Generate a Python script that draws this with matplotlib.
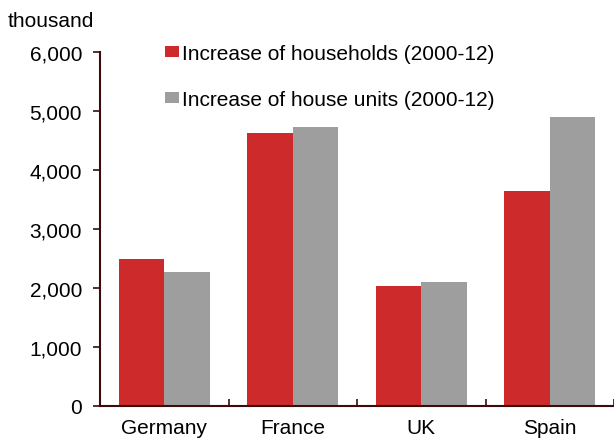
import matplotlib
matplotlib.use('Agg')
import matplotlib.pyplot as plt
import numpy as np
from matplotlib.ticker import FuncFormatter

plt.rcParams['font.family'] = ['Liberation Sans', 'DejaVu Sans']

countries = ['Germany', 'France', 'UK', 'Spain']
households = [2490, 4625, 2020, 3645]
house_units = [2260, 4730, 2090, 4895]
y_ticks = [0, 1000, 2000, 3000, 4000, 5000, 6000]

red = '#cc2a2b'
grey = '#9e9e9e'
spine_col = '#3c0b0b'

fig = plt.figure(figsize=(6.14, 4.39), dpi=100)
ax = fig.add_axes([0.163, 0.074, 0.837, 0.806])

x = np.arange(len(countries))
width = 0.355
ax.bar(x - width / 2, households, width, color=red, label='Increase of households (2000-12)')
ax.bar(x + width / 2, house_units, width, color=grey, label='Increase of house units (2000-12)')

ax.set_xlim(-0.5, len(countries) - 0.5)
ax.set_ylim(0, 6000)
ax.set_yticks(y_ticks)
ax.yaxis.set_major_formatter(FuncFormatter(lambda v, p: f'{int(v):,}'))
ax.set_xticks(x)
ax.set_xticklabels(countries)
# category boundary ticks on x axis
ax.set_xticks(np.arange(len(countries) + 1) - 0.5, minor=True)
ax.tick_params(axis='x', which='major', length=0, labelsize=15, pad=9)
ax.tick_params(axis='x', which='minor', direction='in', length=5, color=spine_col, width=1.2)
ax.tick_params(axis='y', direction='out', length=5, color=spine_col, width=1.2, labelsize=15, pad=8)

for s in ['top', 'right']:
    ax.spines[s].set_visible(False)
for s in ['left', 'bottom']:
    ax.spines[s].set_color(spine_col)
    ax.spines[s].set_linewidth(1.5)

fig.text(0.012, 0.952, 'thousand', fontsize=15, ha='left', va='center')

ax.legend(loc='upper left', bbox_to_anchor=(0.09, 1.075), frameon=False, fontsize=15,
          handlelength=0.67, handleheight=0.48, handletextpad=0.12, labelspacing=1.3)

fig.savefig('out.png', dpi=100)
